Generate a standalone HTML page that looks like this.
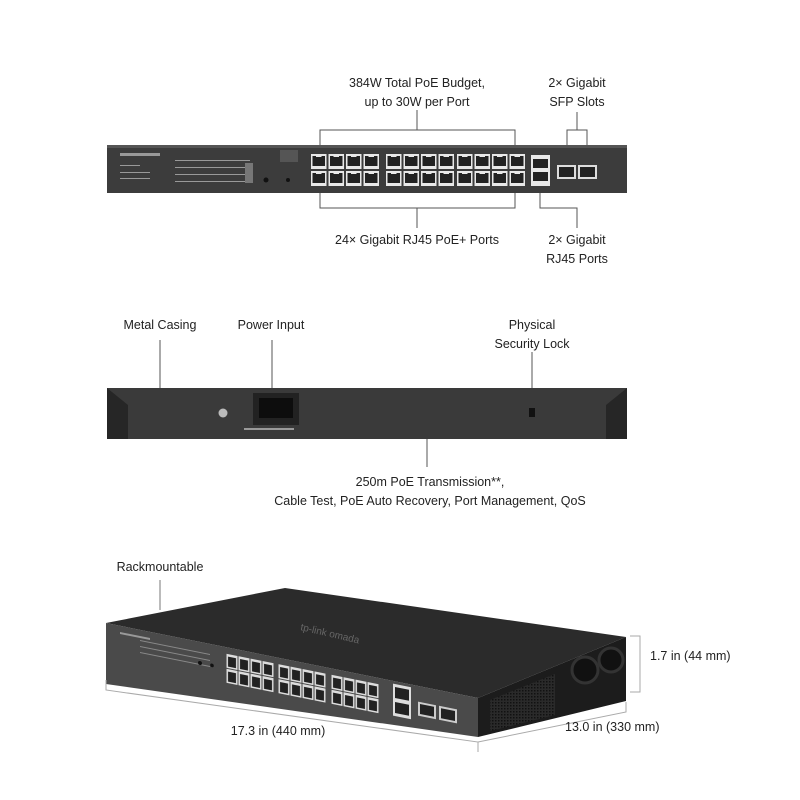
<!DOCTYPE html>
<html><head><meta charset="utf-8"><style>
html,body{margin:0;padding:0;background:#fff}
svg{display:block}
text{font-family:"Liberation Sans",sans-serif;font-size:12.5px;fill:#222}
</style></head><body>
<svg width="800" height="800" viewBox="0 0 800 800" xmlns="http://www.w3.org/2000/svg">
<defs>
<pattern id="pA" x="310" y="153" width="17.5" height="17" patternUnits="userSpaceOnUse">
<rect x="1" y="1" width="15.5" height="15" fill="#e8e8e8"/><rect x="2.5" y="3" width="12.5" height="10" fill="#222"/><rect x="6" y="1" width="5.5" height="3" fill="#e8e8e8"/>
</pattern>
<pattern id="pB" x="385" y="153" width="17.5" height="17" patternUnits="userSpaceOnUse">
<rect x="1" y="1" width="15.5" height="15" fill="#e8e8e8"/><rect x="2.5" y="3" width="12.5" height="10" fill="#222"/><rect x="6" y="1" width="5.5" height="3" fill="#e8e8e8"/>
</pattern>
<pattern id="pC" x="456" y="153" width="17.5" height="17" patternUnits="userSpaceOnUse">
<rect x="1" y="1" width="15.5" height="15" fill="#e8e8e8"/><rect x="2.5" y="3" width="12.5" height="10" fill="#222"/><rect x="6" y="1" width="5.5" height="3" fill="#e8e8e8"/>
</pattern>
<pattern id="p3a" x="226" y="608" width="12" height="15" patternUnits="userSpaceOnUse">
<rect x="0.5" y="0.5" width="11" height="14" fill="#ddd"/><rect x="2" y="3" width="8" height="10" fill="#222"/>
</pattern>
<pattern id="p3b" x="278" y="608" width="12" height="15" patternUnits="userSpaceOnUse">
<rect x="0.5" y="0.5" width="11" height="14" fill="#ddd"/><rect x="2" y="3" width="8" height="10" fill="#222"/>
</pattern>
<pattern id="p3c" x="331" y="608" width="12" height="15" patternUnits="userSpaceOnUse">
<rect x="0.5" y="0.5" width="11" height="14" fill="#ddd"/><rect x="2" y="3" width="8" height="10" fill="#222"/>
</pattern>
<pattern id="grill" width="3" height="3" patternUnits="userSpaceOnUse">
<rect width="3" height="3" fill="#2a2a2a"/><rect width="1.5" height="1.5" fill="#111"/>
</pattern>
</defs>

<!-- ===== Front panel ===== -->
<g stroke="#555" stroke-width="1" fill="none">
<polyline points="320,145 320,130 515,130 515,145"/>
<line x1="417" y1="130" x2="417" y2="110"/>
<polyline points="567,160 567,130 587,130 587,160"/>
<line x1="577" y1="130" x2="577" y2="112"/>
<polyline points="320,193 320,208 515,208 515,193"/>
<line x1="417" y1="208" x2="417" y2="228"/>
<polyline points="540,185 540,208 577,208 577,228"/>
</g>
<rect x="107" y="145" width="520" height="48" fill="#3c3c3c"/>
<rect x="107" y="145" width="520" height="3" fill="#555"/>
<rect x="310" y="153" width="70" height="34" fill="url(#pA)"/>
<rect x="385" y="153" width="70" height="34" fill="url(#pB)"/>
<rect x="456" y="153" width="70" height="34" fill="url(#pC)"/>
<rect x="531" y="155" width="19" height="31" fill="#e8e8e8"/>
<rect x="533" y="159" width="15" height="9" fill="#222"/><rect x="533" y="172" width="15" height="9" fill="#222"/>
<rect x="557" y="165" width="19" height="14" fill="#ddd"/><rect x="559" y="167" width="15" height="10" fill="#222"/>
<rect x="578" y="165" width="19" height="14" fill="#ddd"/><rect x="580" y="167" width="15" height="10" fill="#222"/>
<g fill="#999"><rect x="120" y="153" width="40" height="3"/><rect x="120" y="165" width="20" height="1"/><rect x="120" y="172" width="30" height="1"/><rect x="120" y="178" width="30" height="1"/>
<rect x="175" y="160" width="75" height="1"/><rect x="175" y="167" width="75" height="1"/><rect x="175" y="174" width="75" height="1"/><rect x="175" y="181" width="75" height="1"/>
<rect x="245" y="163" width="8" height="20" fill="#777"/><rect x="280" y="150" width="18" height="12" fill="#555"/></g>
<circle cx="266" cy="180" r="2.5" fill="#111"/><circle cx="288" cy="180" r="2" fill="#111"/>

<text x="417" y="87" text-anchor="middle">384W Total PoE Budget,</text>
<text x="417" y="106" text-anchor="middle">up to 30W per Port</text>
<text x="577" y="87" text-anchor="middle">2× Gigabit</text>
<text x="577" y="106" text-anchor="middle">SFP Slots</text>
<text x="417" y="244" text-anchor="middle">24× Gigabit RJ45 PoE+ Ports</text>
<text x="577" y="244" text-anchor="middle">2× Gigabit</text>
<text x="577" y="263" text-anchor="middle">RJ45 Ports</text>

<!-- ===== Back panel ===== -->
<g stroke="#555" stroke-width="1">
<line x1="160" y1="340" x2="160" y2="388"/>
<line x1="272" y1="340" x2="272" y2="392"/>
<line x1="532" y1="352" x2="532" y2="412"/>
<line x1="427" y1="438" x2="427" y2="467"/>
</g>
<rect x="107" y="388" width="520" height="51" fill="#3a3a3a"/>
<path d="M107,388 L128,405 L128,439 L107,439Z" fill="#262626"/>
<path d="M627,388 L606,405 L606,439 L627,439Z" fill="#262626"/>
<rect x="253" y="393" width="46" height="32" fill="#222"/>
<rect x="259" y="398" width="34" height="20" fill="#0d0d0d"/>
<rect x="529" y="408" width="6" height="9" fill="#111"/>
<circle cx="223" cy="413" r="4.5" fill="#bbb"/>
<rect x="244" y="428" width="50" height="2" fill="#999"/>
<text x="160" y="329" text-anchor="middle">Metal Casing</text>
<text x="271" y="329" text-anchor="middle">Power Input</text>
<text x="532" y="329" text-anchor="middle">Physical</text>
<text x="532" y="348" text-anchor="middle">Security Lock</text>
<text x="430" y="486" text-anchor="middle">250m PoE Transmission**,</text>
<text x="430" y="505" text-anchor="middle">Cable Test, PoE Auto Recovery, Port Management, QoS</text>

<!-- ===== 3D view ===== -->
<line x1="160" y1="580" x2="160" y2="610" stroke="#777"/>
<text x="160" y="571" text-anchor="middle">Rackmountable</text>
<polygon points="106,623 285,588 626,637 478,698" fill="#2b2b2b"/>
<polygon points="106,623 478,698 478,737 106,684" fill="#4a4a4a"/>
<polygon points="478,698 626,637 626,701 478,737" fill="#1c1c1c"/>
<polygon points="490,700 555,674 555,715 490,731" fill="url(#grill)"/>
<circle cx="585" cy="670" r="13" fill="#111" stroke="#333" stroke-width="3"/>
<circle cx="611" cy="660" r="12" fill="#111" stroke="#333" stroke-width="3"/>
<g transform="matrix(1,0.2,0,1,0,0)">
<rect x="226" y="608" width="48" height="30" fill="url(#p3a)"/>
<rect x="278" y="608" width="48" height="30" fill="url(#p3b)"/>
<rect x="331" y="608" width="48" height="30" fill="url(#p3c)"/>
<rect x="393" y="605" width="18" height="32" fill="#ddd"/>
<rect x="395" y="608" width="14" height="11" fill="#222"/><rect x="395" y="623" width="14" height="11" fill="#222"/>
<rect x="418" y="618" width="18" height="14" fill="#ccc"/><rect x="420" y="620" width="14" height="10" fill="#222"/>
<rect x="439" y="618" width="18" height="14" fill="#ccc"/><rect x="441" y="620" width="14" height="10" fill="#222"/>
<rect x="120" y="608" width="30" height="2" fill="#999"/>
<rect x="140" y="612" width="70" height="1" fill="#888"/><rect x="140" y="618" width="70" height="1" fill="#888"/><rect x="140" y="624" width="70" height="1" fill="#888"/>
<circle cx="200" cy="623" r="2" fill="#111"/><circle cx="212" cy="623" r="1.8" fill="#111"/>
</g>
<text x="300" y="630" transform="rotate(13 300 630)" style="font-size:10px;fill:#666">tp-link omada</text>
<g stroke="#aaa" stroke-width="1" fill="none">
<polyline points="106,680 106,690 478,742 478,752"/>
<polyline points="478,742 626,712 626,702"/>
<polyline points="630,636 640,636 640,692 630,692"/>
</g>
<text x="650" y="660">1.7 in (44 mm)</text>
<text x="278" y="735" text-anchor="middle">17.3 in (440 mm)</text>
<text x="565" y="731">13.0  in (330 mm)</text>
</svg>
</body></html>
